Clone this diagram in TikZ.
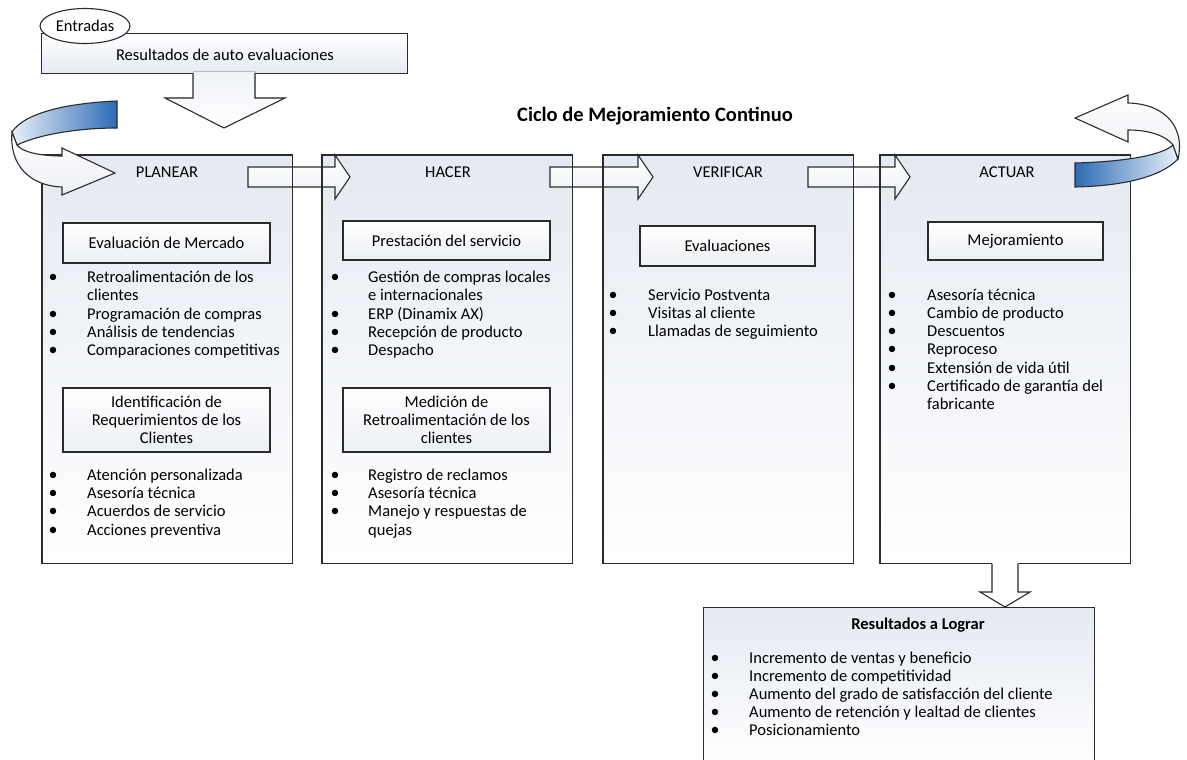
\documentclass[tikz,border=0pt]{standalone}
\usepackage{fontspec}
\setmainfont{Carlito}
\usetikzlibrary{shapes.geometric}
\definecolor{lineC}{HTML}{2B2B2B}
\definecolor{colTop}{HTML}{E5EAF2}
\definecolor{boxBot}{HTML}{ECEFF4}
\definecolor{ribbon}{HTML}{2D6BB5}
\definecolor{ribbonM}{HTML}{6F9AD0}
\definecolor{ribbonL}{HTML}{E8F0F9}
\newcommand\bulletlist[6]{%
  \foreach \b/\t [count=\i from 0] in {#6}{%
    \node[txt] (#1\i) at (#3, #4+#5*\i) {\t};
    \ifnum\b=1 \node[bul] (#1b\i) at (#2, #4+#5*\i) {\textbullet};\fi
  }}
\begin{document}
\begin{tikzpicture}[x=1pt,y=-1pt,
  line/.style={draw=lineC, line width=1.1pt},
  colfill/.style={top color=colTop, bottom color=white, inner sep=0pt, anchor=north west,
     minimum width=250pt, minimum height=408pt},
  ibox/.style={line, top color=white, bottom color=boxBot, align=center, inner sep=0pt,
     font=\fontsize{16.5}{18}\selectfont},
  txt/.style={anchor=mid west, inner sep=0pt, font=\fontsize{16.5}{18}\selectfont},
  bul/.style={anchor=mid, inner sep=0pt, font=\fontsize{18}{18}\selectfont},
  head/.style={inner sep=0pt, font=\fontsize{16.5}{18}\selectfont},
  barrow/.style={line, top color=white, bottom color=boxBot}]
\useasboundingbox (0,0) rectangle (1187,760);
% ---------- Entradas
\node[line, top color=white, bottom color=colTop, inner sep=0pt, anchor=north west,
  minimum width=366pt, minimum height=40pt] (inbox) at (41,33) {};
\node[head] (intext) at (225,55) {Resultados de auto evaluaciones};
\fill[top color=colTop!60!white, bottom color=white] (193,71.5) -- (193,98) -- (165,98) -- (224,128) -- (285,98) -- (255,98) -- (255,71.5) -- cycle;
\draw[line, line join=miter] (193,73) -- (193,98) -- (165,98) -- (224,128) -- (285,98) -- (255,98) -- (255,73);
\node[ellipse, line, fill=white, minimum width=90pt, minimum height=35pt, inner sep=0pt,
  font=\fontsize{16.5}{18}\selectfont] (entradas) at (85,26) {Entradas};
% ---------- title
\node[inner sep=0pt, font=\fontsize{20.5}{24}\selectfont\bfseries] (title) at (655,116) {Ciclo de Mejoramiento Continuo};
% ---------- columns (fill)
\node[colfill] (planear) at (42,155) {};
\node[colfill] (hacer) at (322,155) {};
\node[colfill] (verificar) at (603,155) {};
\node[colfill] (actuar) at (880,155) {};
% ---------- horizontal block arrows
\foreach \a/\b/\c in {248/335/350, 550/638/653, 808/895/910}{
  \path[barrow, line join=miter] (\a,167) -- (\b,167) -- (\b,155) -- (\c,177) -- (\b,199) -- (\b,187) -- (\a,187) -- cycle;
}
% ---------- column borders
\foreach \n in {planear,hacer,verificar,actuar}{
  \draw[line] (\n.north west) rectangle (\n.south east);
}
% ---------- column titles
\node[head] (tplan) at (167,172) {PLANEAR};
\node[head] (thac) at (448,172) {HACER};
\node[head] (tver) at (728,172) {VERIFICAR};
\node[head] (tact) at (1007,172) {ACTUAR};
% ---------- PLANEAR
\node[ibox, minimum width=207pt, minimum height=40pt] (evm) at (166.5,243) {Evaluación de Mercado};
\bulletlist{pa}{53}{87}{280}{18.4}{1/Retroalimentación de los,0/clientes,1/Programación de compras,1/Análisis de tendencias,1/Comparaciones competitivas}
\node[ibox, minimum width=207pt, minimum height=64pt] (idr) at (166.5,420) {Identificación de\\Requerimientos de los\\Clientes};
\bulletlist{pb}{53}{87}{478}{18.3}{1/Atención personalizada,1/Asesoría técnica,1/Acuerdos de servicio,1/Acciones preventiva}
% ---------- HACER
\node[ibox, minimum width=207pt, minimum height=39pt] (pds) at (446.5,240.5) {Prestación del servicio};
\bulletlist{ha}{335}{368}{280}{18.4}{1/Gestión de compras locales,0/e internacionales,1/ERP (Dinamix AX),1/Recepción de producto,1/Despacho}
\node[ibox, minimum width=207pt, minimum height=64pt] (mdr) at (446.5,420) {Medición de\\Retroalimentación de los\\clientes};
\bulletlist{hb}{335}{368}{478}{18.3}{1/Registro de reclamos,1/Asesoría técnica,1/Manejo y respuestas de,0/quejas}
% ---------- VERIFICAR
\node[ibox, minimum width=175pt, minimum height=40pt] (eva) at (727.5,246) {Evaluaciones};
\bulletlist{va}{613}{648}{298}{18.2}{1/Servicio Postventa,1/Visitas al cliente,1/Llamadas de seguimiento}
% ---------- ACTUAR
\node[ibox, minimum width=175pt, minimum height=38pt] (mej) at (1015.5,241) {Mejoramiento};
\bulletlist{aa}{892}{927}{298}{18.2}{1/Asesoría técnica,1/Cambio de producto,1/Descuentos,1/Reproceso,1/Extensión de vida útil,1/Certificado de garantía del,0/fabricante}
% ---------- curved arrow left
\path[line, left color=ribbonL, middle color=ribbonM, right color=ribbon] (117,101) .. controls (70,103) and (25,112) .. (12,132) -- (17,145) .. controls (40,134) and (80,128) .. (117,128) -- cycle;
\path[line, line join=miter, top color=white, bottom color=boxBot] (12,132) .. controls (9,165) and (30,186) .. (62,187) -- (62,195) -- (115,173) -- (62,148) -- (62,156) .. controls (40,156) and (22,152) .. (17,145) -- cycle;
% ---------- curved arrow right
\path[line, left color=ribbon, middle color=ribbonM, right color=ribbonL] (1075,163) .. controls (1115,162) and (1160,157) .. (1173,145) -- (1178,159) .. controls (1160,178) and (1120,186) .. (1075,187) -- cycle;
\path[line, line join=miter, top color=white, bottom color=boxBot] (1178,159) .. controls (1185,130) and (1168,104) .. (1128,103) -- (1128,95) -- (1075,118) -- (1128,142) -- (1128,130) .. controls (1150,130) and (1166,136) .. (1173,145) -- cycle;
% ---------- Resultados
\node[line, top color=colTop, bottom color=white, inner sep=0pt, anchor=north west,
  minimum width=391pt, minimum height=160pt] (res) at (703,607) {};
\node[inner sep=0pt, font=\fontsize{16.5}{18}\selectfont\bfseries] (rtitle) at (918,625) {Resultados a Lograr};
\bulletlist{ra}{715}{749}{661}{18}{1/Incremento de ventas y beneficio,1/Incremento de competitividad,1/Aumento del grado de satisfacción del cliente,1/Aumento de retención y lealtad de clientes,1/Posicionamiento}
\fill[white] (992,562) -- (992,592) -- (980,592) -- (1005,607) -- (1030,592) -- (1018,592) -- (1018,562) -- cycle;
\draw[line, line join=miter] (992,563.5) -- (992,592) -- (980,592) -- (1005,607) -- (1030,592) -- (1018,592) -- (1018,563.5);
\end{tikzpicture}
\end{document}
